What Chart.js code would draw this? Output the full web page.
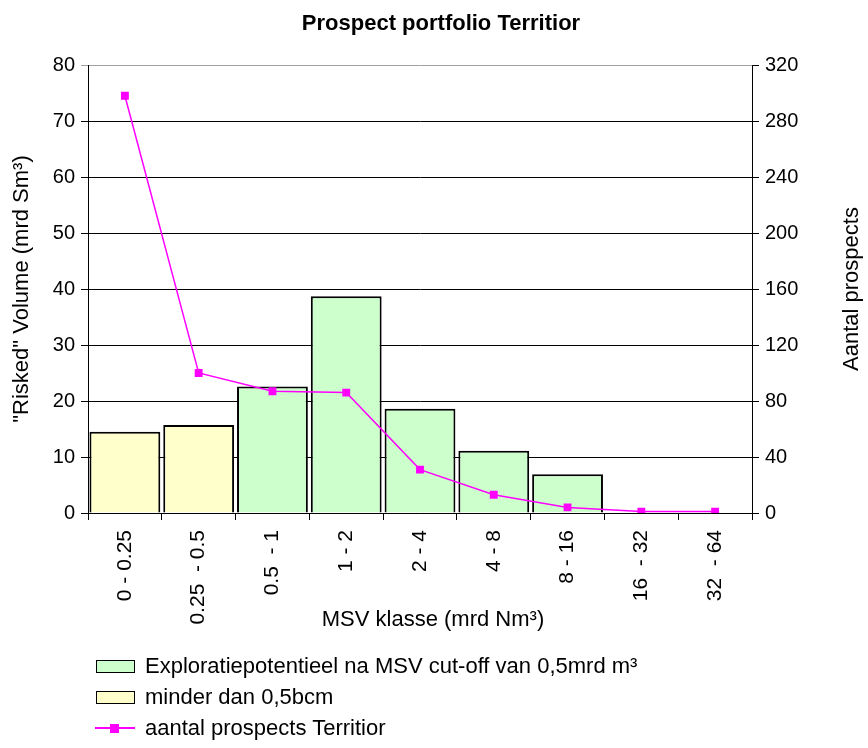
<!DOCTYPE html>
<html>
<head>
<meta charset="utf-8">
<script src="https://cdn.jsdelivr.net/npm/chart.js@4/dist/chart.umd.min.js"></script>
<style>
  body { margin: 0; background: #fff; }
  #wrap { position: relative; width: 868px; height: 748px; }
  #legend { position: absolute; left: 95px; top: 650px; font-family: "Liberation Sans", Arial, sans-serif; font-size: 22px; color: #000; }
  .item { display: flex; align-items: center; height: 31px; }
  .sym { width: 40px; height: 24px; position: relative; margin-right: 10px; }
  .box { position: absolute; left: 1px; top: 6px; width: 37px; height: 11px; border: 1px solid #000; }
  .ln { position: absolute; left: 0; top: 11px; width: 40px; height: 2px; }
  .mk { position: absolute; left: 15px; top: 8px; width: 9px; height: 9px; }
</style>
</head>
<body>
<div id="wrap">
  <canvas id="chart" width="868" height="748"></canvas>
  <div id="legend"></div>
</div>
<script>
const categories = ['0 - 0.25', '0.25  - 0.5', '0.5  - 1', '1 - 2', '2 - 4', '4 - 8', '8 - 16', '16  - 32', '32  - 64'];
const exploratie = [null, null, 22.6, 38.7, 18.6, 11.1, 6.9, 0, 0];
const minderDan = [14.5, 15.7, null, null, null, null, null, null, null];
const aantalProspects = [298, 100, 87, 86, 31, 13, 4, 1, 1];

const font = "'Liberation Sans', Arial, sans-serif";
Chart.defaults.font.family = font;
Chart.defaults.color = '#000';

// x title sits a bit right of centre, right title reads bottom-to-top
const extraTitles = {
    id: 'extraTitles',
    afterDraw(chart) {
        const a = chart.chartArea;
        const ctx = chart.ctx;
        ctx.save();
        ctx.font = '22px ' + font;
        ctx.fillStyle = '#000';
        ctx.textAlign = 'center';
        ctx.textBaseline = 'middle';
        ctx.fillText('MSV klasse (mrd Nm³)', a.left + 345, 620);
        ctx.translate(852, (a.top + a.bottom) / 2);
        ctx.rotate(-Math.PI / 2);
        ctx.fillText('Aantal prospects', 0, 0);
        ctx.restore();
    }
};

const chart = new Chart(document.getElementById('chart'), {
    data: {
        labels: categories,
        datasets: [{
            type: 'line',
            label: 'aantal prospects Territior',
            data: aantalProspects,
            yAxisID: 'y1',
            borderColor: '#ff00ff',
            backgroundColor: '#ff00ff',
            borderWidth: 1.5,
            pointStyle: 'rect',
            pointRadius: 4.5,
            tension: 0,
            order: 0
        }, {
            type: 'bar',
            label: 'Exploratiepotentieel na MSV cut-off van 0,5mrd m³',
            data: exploratie,
            yAxisID: 'y',
            backgroundColor: '#ccffcc',
            borderColor: '#000',
            borderWidth: 2,
            barPercentage: 0.96,
            categoryPercentage: 1,
            order: 1
        }, {
            type: 'bar',
            label: 'minder dan 0,5bcm',
            data: minderDan,
            yAxisID: 'y',
            backgroundColor: '#ffffcc',
            borderColor: '#000',
            borderWidth: 2,
            barPercentage: 0.96,
            categoryPercentage: 1,
            order: 1
        }]
    },
    options: {
        responsive: false,
        animation: false,
        layout: { padding: { top: 0, bottom: 115, left: 14, right: 0 } },
        plugins: {
            legend: { display: false },
            tooltip: { enabled: false },
            title: {
                display: true,
                text: 'Prospect portfolio Territior',
                font: { size: 22, weight: 'bold' },
                padding: { top: 11, bottom: 27.6 }
            }
        },
        scales: {
            x: {
                stacked: true,
                grid: { offset: true, drawOnChartArea: false, tickLength: 7, color: '#000' },
                border: { color: '#000', width: 1 },
                ticks: { minRotation: 90, maxRotation: 90, padding: 10, font: { size: 21 } },
                afterFit: s => { s.height = 120; }
            },
            y: {
                stacked: true,
                min: 0, max: 80,
                ticks: { stepSize: 10, padding: 6, font: { size: 20 } },
                grid: { tickLength: 7, color: c => c.tick && c.tick.value === 80 ? '#a0a0a0' : '#000', lineWidth: 1 },
                border: { color: '#000', width: 1 },
                title: { display: true, text: '"Risked" Volume (mrd Sm³)', font: { size: 22 }, padding: { top: -5.2, bottom: 0 } },
                afterFit: s => { s.width = 74; }
            },
            y1: {
                position: 'right',
                min: 0, max: 320,
                ticks: { stepSize: 40, padding: 6, font: { size: 20 } },
                grid: { drawOnChartArea: false, tickLength: 7, color: '#000' },
                border: { color: '#000', width: 1 },
                afterFit: s => { s.width = 116; }
            }
        }
    },
    plugins: [extraTitles]
});

// legend as html, stacked vertically, built from the datasets
const legendOrder = [1, 2, 0];
const legendEl = document.getElementById('legend');
legendOrder.forEach(i => {
    const ds = chart.data.datasets[i];
    const row = document.createElement('div');
    row.className = 'item';
    const sym = document.createElement('div');
    sym.className = 'sym';
    if (ds.type === 'bar') {
        sym.innerHTML = '<div class="box" style="background:' + ds.backgroundColor + '"></div>';
    } else {
        sym.innerHTML = '<div class="ln" style="background:' + ds.borderColor + '"></div>' +
            '<div class="mk" style="background:' + ds.backgroundColor + '"></div>';
    }
    const txt = document.createElement('span');
    txt.textContent = ds.label;
    row.appendChild(sym);
    row.appendChild(txt);
    legendEl.appendChild(row);
});
</script>
</body>
</html>
